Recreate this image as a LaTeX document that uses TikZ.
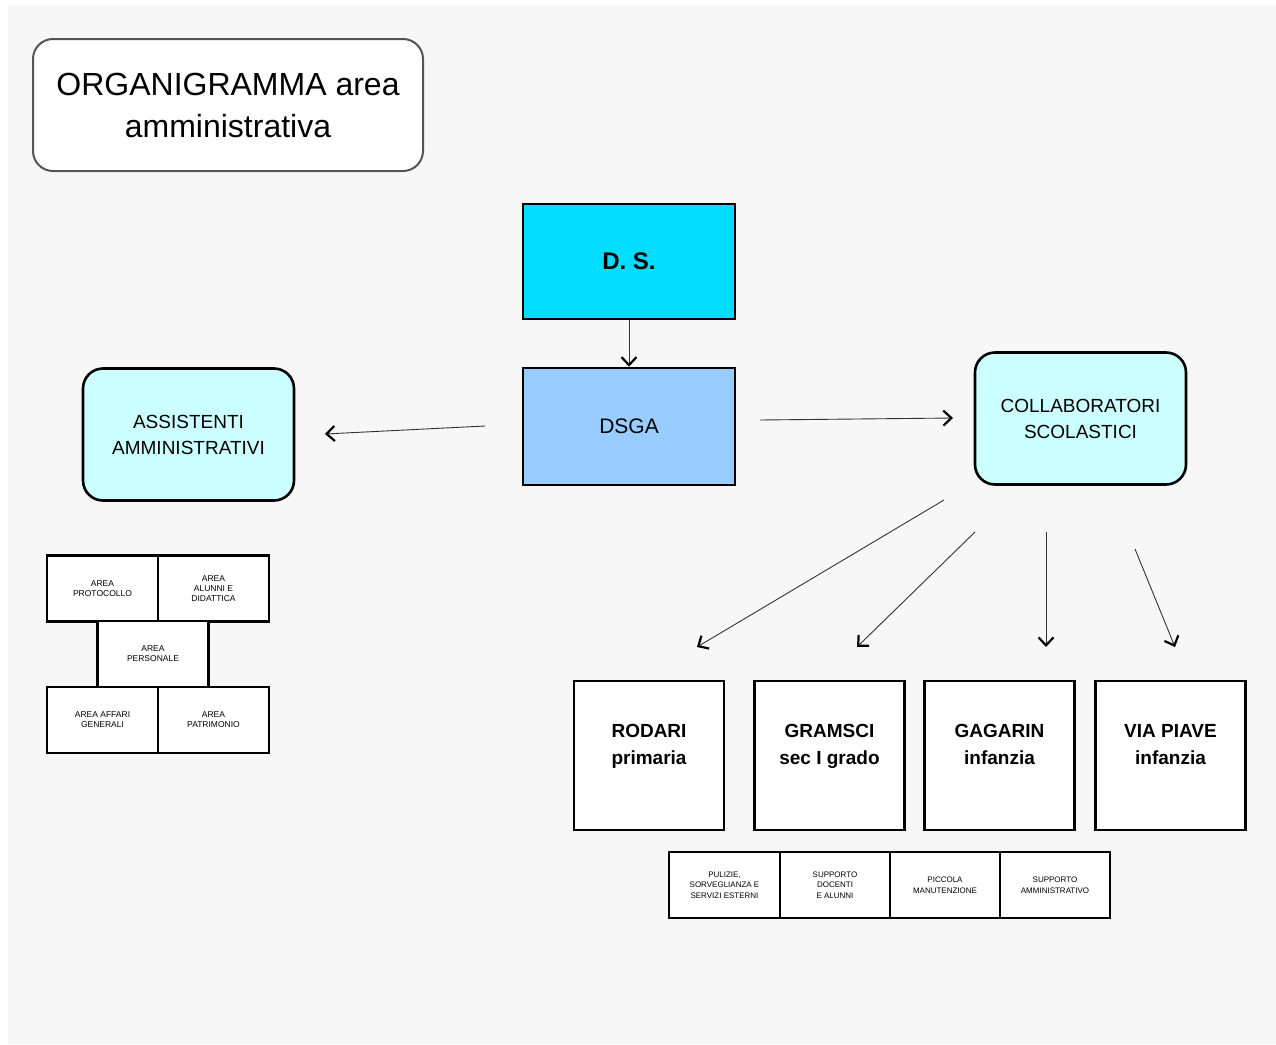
\documentclass[tikz,border=0pt]{standalone}
\usepackage{fontspec}
\setmainfont{Liberation Sans}
\usetikzlibrary{arrows.meta}
\definecolor{bgc}{HTML}{F7F7F7}
\definecolor{dscol}{HTML}{00DDFF}
\definecolor{dsgacol}{HTML}{99CCFF}
\definecolor{lcyan}{HTML}{CCFFFF}
\definecolor{titleb}{HTML}{555555}
\definecolor{arrc}{HTML}{333333}
\begin{document}
\begin{tikzpicture}[x=1pt,y=-1pt,
  box/.style={draw=black,line width=2.6pt,fill=white,inner sep=0pt,align=center},
  roundbox/.style={box,fill=lcyan,rounded corners=20pt},
  smallbox/.style={draw=black,line width=2.2pt,fill=white,inner sep=0pt,align=center,font=\fontsize{8.5}{10}\selectfont},
  conn/.style={draw=arrc,line width=0.9pt,-{Straight Barb[length=8pt,width=15pt,line width=2.2pt,color=black]}}
]
\useasboundingbox (0,0) rectangle (1276,1044);
\fill[white] (0,0) rectangle (1276,1044);
\fill[bgc] (8,5) rectangle (1276,1044);

% title
\node[draw=titleb,line width=2pt,fill=white,rounded corners=20pt,minimum width=390pt,minimum height=132pt,align=center,font=\fontsize{32}{42}\selectfont] (title) at (228,105) {ORGANIGRAMMA area\\amministrativa};

% DS and DSGA
\node[box,fill=dscol,minimum width=212pt,minimum height=115pt,font=\fontsize{24}{28}\selectfont\bfseries] (ds) at (629,261.5) {D. S.};
\node[box,fill=dsgacol,minimum width=212pt,minimum height=117pt,font=\fontsize{21}{26}\selectfont] (dsga) at (629,426.5) {DSGA};

% side boxes
\node[roundbox,minimum width=211pt,minimum height=132pt,font=\fontsize{19}{26}\selectfont] (ass) at (188.5,434.5) {ASSISTENTI\\AMMINISTRATIVI};
\node[roundbox,minimum width=211pt,minimum height=132pt,font=\fontsize{19}{26}\selectfont] (coll) at (1080.5,418.5) {COLLABORATORI\\SCOLASTICI};

% schools
\tikzset{school/.style={box,minimum width=150pt,minimum height=149pt,
  label={[align=center,font=\fontsize{19}{27}\selectfont\bfseries,anchor=north,yshift=-41pt]north:#1}}}
\node[school={RODARI\\primaria}] (rodari) at (649,755.5) {};
\node[school={GRAMSCI\\sec I grado}] (gramsci) at (829.5,755.5) {};
\node[school={GAGARIN\\infanzia}] (gagarin) at (999.5,755.5) {};
\node[school={VIA PIAVE\\infanzia}] (piave) at (1170.5,755.5) {};

% bottom row
\tikzset{bsmall/.style={smallbox,minimum width=110.5pt,minimum height=66pt,font=\fontsize{8}{10.5}\selectfont}}
\node[bsmall] (pul) at (724.5,885) {PULIZIE,\\SORVEGLIANZA E\\SERVIZI ESTERNI};
\node[bsmall] (supd) at (835,885) {SUPPORTO\\DOCENTI\\E ALUNNI};
\node[bsmall] (picc) at (945,885) {PICCOLA\\MANUTENZIONE};
\node[bsmall] (supa) at (1055,885) {SUPPORTO\\AMMINISTRATIVO};

% left grid
\tikzset{lsmall/.style={smallbox,minimum width=111pt,minimum height=66pt}}
\node[lsmall] (prot) at (102.5,588.5) {AREA\\PROTOCOLLO};
\node[lsmall] (alun) at (213.5,588.5) {AREA\\ALUNNI E\\DIDATTICA};
\node[lsmall] (pers) at (153,654) {AREA\\PERSONALE};
\node[lsmall] (aff) at (102.5,720) {AREA AFFARI\\GENERALI};
\node[lsmall] (patr) at (213.5,720) {AREA\\PATRIMONIO};

% connector end points
\coordinate (a1s) at (485,426);
\coordinate (a1e) at (325,434);
\coordinate (a2s) at (760,420);
\coordinate (a2e) at (953,418);
\coordinate (r1s) at (944,500);
\coordinate (r1e) at (697,647);
\coordinate (r2s) at (975,532);
\coordinate (r2e) at (857,647);
\coordinate (r3s) at (1046,532);
\coordinate (r3e) at (1046,647);
\coordinate (r4s) at (1135,549);
\coordinate (r4e) at (1175,647);

\draw[conn] (ds) -- (dsga);
\draw[conn] (a1s) -- (a1e);
\draw[conn] (a2s) -- (a2e);
\draw[conn] (r1s) -- (r1e);
\draw[conn] (r2s) -- (r2e);
\draw[conn] (r3s) -- (r3e);
\draw[conn] (r4s) -- (r4e);
\end{tikzpicture}
\end{document}
